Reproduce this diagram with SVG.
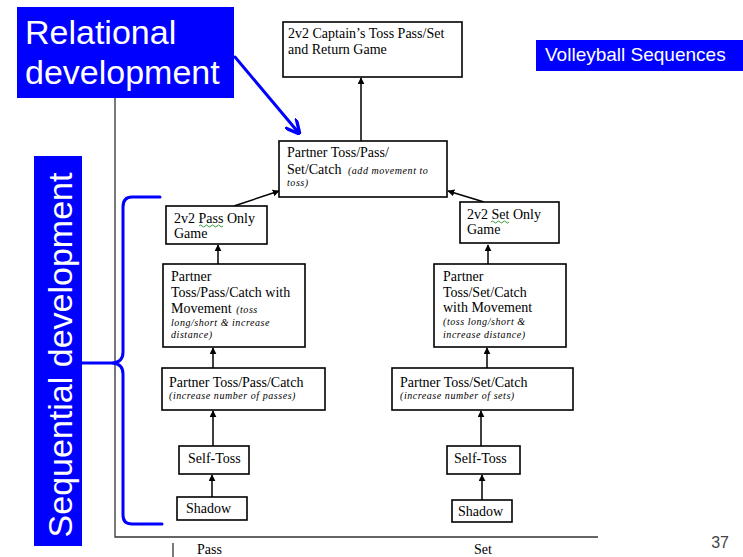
<svg xmlns="http://www.w3.org/2000/svg" width="743" height="557" viewBox="0 0 743 557">
  <style>
    .box { fill: #ffffff; stroke: #000000; stroke-width: 1.6; }
    .t { font-family: "Liberation Serif", "Times New Roman", serif; font-size: 14px; fill: #000000; }
    .it { font-family: "Liberation Serif", "Times New Roman", serif; font-size: 10px; font-style: italic; fill: #000000; letter-spacing: 0.55px; }
    .conn { stroke: #000000; stroke-width: 1.5; fill: none; marker-end: url(#ah); }
    .axis { stroke: #333333; stroke-width: 1.3; fill: none; }
    .banner { fill: #0000ff; }
    .bt { font-family: "Liberation Sans", Arial, sans-serif; fill: #ffffff; }
    .blue { stroke: #0000ff; stroke-width: 3; fill: none; stroke-linecap: round; stroke-linejoin: round; }
    .squig { stroke: #3a9a3a; stroke-width: 1; fill: none; }
  </style>
  <defs>
    <marker id="ah" viewBox="0 0 10 10" refX="9" refY="5" markerWidth="7" markerHeight="7" markerUnits="userSpaceOnUse" orient="auto">
      <path d="M0,0 L10,5 L0,10 z" fill="#000000"/>
    </marker>
    <marker id="bah" viewBox="0 0 10 10" refX="8" refY="5" markerWidth="5" markerHeight="5" orient="auto">
      <path d="M0,0 L10,5 L0,10" fill="none" stroke="#0000ff" stroke-width="2.2"/>
    </marker>
  </defs>

  <rect width="743" height="557" fill="#ffffff"/>

  <!-- axes -->
  <g id="axes">
    <path class="axis" d="M115,98 V537 H598"/>
    <path class="axis" d="M173,543 V557"/>
    <text class="t" x="197" y="554">Pass</text>
    <text class="t" x="474" y="554">Set</text>
  </g>

  <!-- connectors -->
  <g id="connectors">
    <path class="conn" d="M361,141 V78"/>
    <path class="conn" d="M234,206 L279,191"/>
    <path class="conn" d="M484,202 L448,191"/>
    <path class="conn" d="M218,264 V245"/>
    <path class="conn" d="M488,264 V245"/>
    <path class="conn" d="M213,368 V348"/>
    <path class="conn" d="M487,368 V348"/>
    <path class="conn" d="M213,446 V411"/>
    <path class="conn" d="M481,446 V411"/>
    <path class="conn" d="M212,497 V475"/>
    <path class="conn" d="M482,500 V475"/>
  </g>

  <!-- nodes -->
  <g id="captains-game">
    <rect class="box" x="283" y="22" width="179" height="55"/>
    <text class="t" x="288" y="38">2v2 Captain’s Toss Pass/Set</text>
    <text class="t" x="288" y="54">and Return Game</text>
  </g>

  <g id="partner-toss-pass-set">
    <rect class="box" x="279" y="141" width="168" height="56"/>
    <text class="t" x="287" y="157">Partner Toss/Pass/</text>
    <text class="t" x="287" y="174">Set/Catch <tspan class="it" dx="3">(add movement to</tspan></text>
    <text class="it" x="287" y="186">toss)</text>
  </g>

  <g id="pass-only-game">
    <rect class="box" x="166" y="206" width="101" height="38"/>
    <text class="t" x="174" y="223">2v2 Pass Only</text>
    <text class="t" x="174" y="238">Game</text>
    <path class="squig" d="M199,226 q1.5,-2 3,0 t3,0 t3,0 t3,0 t3,0 t3,0 t3,0 t3,0"/>
  </g>

  <g id="set-only-game">
    <rect class="box" x="460" y="202" width="99" height="41"/>
    <text class="t" x="467" y="219">2v2 Set Only</text>
    <text class="t" x="467" y="234">Game</text>
    <path class="squig" d="M491,222 q1.5,-2 3,0 t3,0 t3,0 t3,0 t3,0 t3,0"/>
  </g>

  <g id="pass-movement">
    <rect class="box" x="163" y="264" width="142" height="83"/>
    <text class="t" x="171" y="281">Partner</text>
    <text class="t" x="171" y="297">Toss/Pass/Catch with</text>
    <text class="t" x="171" y="313">Movement <tspan class="it" dx="1">(toss</tspan></text>
    <text class="it" x="171" y="326">long/short &amp; increase</text>
    <text class="it" x="171" y="338">distance)</text>
  </g>

  <g id="set-movement">
    <rect class="box" x="434" y="264" width="132" height="83"/>
    <text class="t" x="443" y="281">Partner</text>
    <text class="t" x="443" y="297">Toss/Set/Catch</text>
    <text class="t" x="443" y="312">with Movement</text>
    <text class="it" x="443" y="325">(toss long/short &amp;</text>
    <text class="it" x="443" y="338">increase distance)</text>
  </g>

  <g id="pass-catch">
    <rect class="box" x="162" y="368" width="163" height="42"/>
    <text class="t" x="169" y="387">Partner Toss/Pass/Catch</text>
    <text class="it" x="169" y="399">(increase number of passes)</text>
  </g>

  <g id="set-catch">
    <rect class="box" x="392" y="368" width="181" height="42"/>
    <text class="t" x="400" y="387">Partner Toss/Set/Catch</text>
    <text class="it" x="400" y="399">(increase number of sets)</text>
  </g>

  <g id="self-toss-pass">
    <rect class="box" x="179" y="446" width="70" height="28"/>
    <text class="t" x="188" y="463">Self-Toss</text>
  </g>

  <g id="self-toss-set">
    <rect class="box" x="447" y="446" width="73" height="28"/>
    <text class="t" x="454" y="463">Self-Toss</text>
  </g>

  <g id="shadow-pass">
    <rect class="box" x="177" y="497" width="70" height="23"/>
    <text class="t" x="186" y="513">Shadow</text>
  </g>

  <g id="shadow-set">
    <rect class="box" x="452" y="500" width="60" height="22"/>
    <text class="t" x="458" y="516">Shadow</text>
  </g>

  <!-- annotation banners -->
  <g id="relational-development">
    <rect class="banner" x="17" y="7" width="217" height="91"/>
    <text class="bt" x="25" y="44" font-size="34">Relational</text>
    <text class="bt" x="25" y="84" font-size="34">development</text>
    <path class="blue" d="M235,57 L298,132" marker-end="url(#bah)"/>
  </g>

  <g id="volleyball-sequences">
    <rect class="banner" x="536" y="40" width="207" height="31"/>
    <text class="bt" x="545" y="61" font-size="19">Volleyball Sequences</text>
  </g>

  <g id="sequential-development">
    <rect class="banner" x="34" y="156" width="48" height="390"/>
    <text class="bt" font-size="34" text-anchor="middle" transform="translate(72,355) rotate(-90)">Sequential development</text>
    <path class="blue" d="M82,363 H113"/>
    <path class="blue" d="M160,197 H132 Q123,197 123,207 V352 Q123,362 113,363 Q123,364 123,374 V515 Q123,524 132,524 H162"/>
  </g>

  <text x="729" y="548" font-family="Liberation Sans, Arial, sans-serif" font-size="16" fill="#444444" text-anchor="end">37</text>
</svg>
